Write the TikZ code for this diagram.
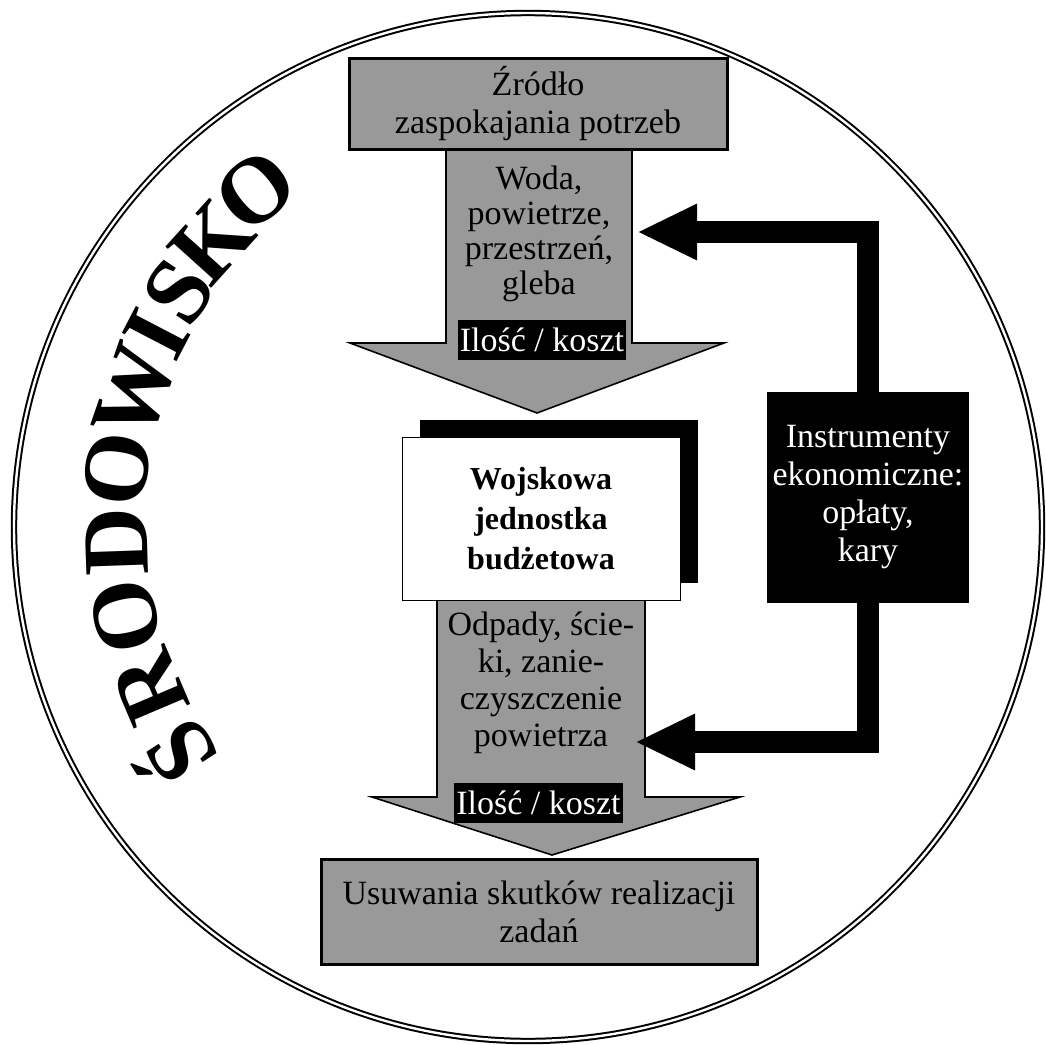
\documentclass[tikz,border=0pt]{standalone}
\usepackage{fontspec}
\setmainfont{Liberation Serif}
\usetikzlibrary{arrows.meta,shadows}

\tikzset{
  gbox/.style={draw, fill=black!40, line width=1.5pt, align=center, font=\fontsize{17}{19}\selectfont},
  body/.style={draw, fill=black!40, line width=0.8pt},
  txt/.style={align=center, font=\fontsize{17}{17.5}\selectfont},
  lbl/.style={fill=black, text=white, inner sep=1pt, font=\fontsize{17}{18}\selectfont},
  conn/.style={line width=11pt, -{Triangle[length=30pt,width=26pt]}},
  litera/.style={anchor=base, inner sep=0pt, font=\bfseries\fontsize{47}{47}\selectfont},
}

\begin{document}
\begin{tikzpicture}[x=0.5pt,y=0.5pt]
\useasboundingbox (0,0) rectangle (1046,-1045);

\draw [double, line width=1pt, double distance=1.2pt] (528,-527) circle [radius=514];

\foreach \ch/\ang/\rad [count=\n] in {Ś/213/382, R/203/380, O/192.5/381, D/182/381, O/172/384,
  W/161/385, I/152.5/388, S/146/391, K/138/395, O/129/402}
  \path (528,-527) ++(\ang:\rad) node (lit-\n) [litera, rotate=\ang-90]{\ch};

\filldraw [body] (446,-149) -- (632,-149) -- (632,-343) -- (724,-343) -- (537,-413) -- (350,-343) -- (446,-343) -- cycle;
\filldraw [body] (437,-600) -- (645,-600) -- (645,-797) -- (740,-797) -- (552,-855) -- (372,-797) -- (437,-797) -- cycle;

\node (zrodlo) at (538,-103.5) [gbox, minimum width=189pt, minimum height=45.5pt]{Źródło\\zaspokajania potrzeb};
\node (woda) at (539,-234) [txt]{Woda,\\powietrze,\\przestrzeń,\\gleba};
\node (ilosc-1) at (542,-340) [lbl, minimum width=84pt, minimum height=20pt]{Ilość / koszt};

\node (jednostka) at (541,-518.5) [draw, fill=white, minimum width=139pt, minimum height=81.5pt, align=center,
  font=\bfseries\fontsize{16}{20}\selectfont,
  drop shadow={shadow xshift=9pt, shadow yshift=8.5pt, fill=black, opacity=1}]{Wojskowa\\jednostka\\budżetowa};

\node (odpady) at (541,-683) [txt, font=\fontsize{17}{18.5}\selectfont]{Odpady, ście-\\ki, zanie-\\czyszczenie\\powietrza};
\node (ilosc-2) at (538.5,-803) [lbl, minimum width=83.5pt, minimum height=20pt]{Ilość / koszt};

\node (usuwanie) at (539,-911.5) [gbox, minimum width=218pt, minimum height=52.5pt]{Usuwania skutków realizacji\\zadań};

\node (instr) at (868,-497.5) [lbl, minimum width=101pt, minimum height=105.5pt, align=center,
  font=\fontsize{17}{19}\selectfont]{Instrumenty\\ekonomiczne:\\opłaty,\\kary};

\coordinate (wejscie-1) at (637,-232);
\coordinate (wejscie-2) at (635,-742);

\draw [conn] (instr.north) |- (wejscie-1);
\draw [conn] (instr.south) |- (wejscie-2);

\end{tikzpicture}
\end{document}
